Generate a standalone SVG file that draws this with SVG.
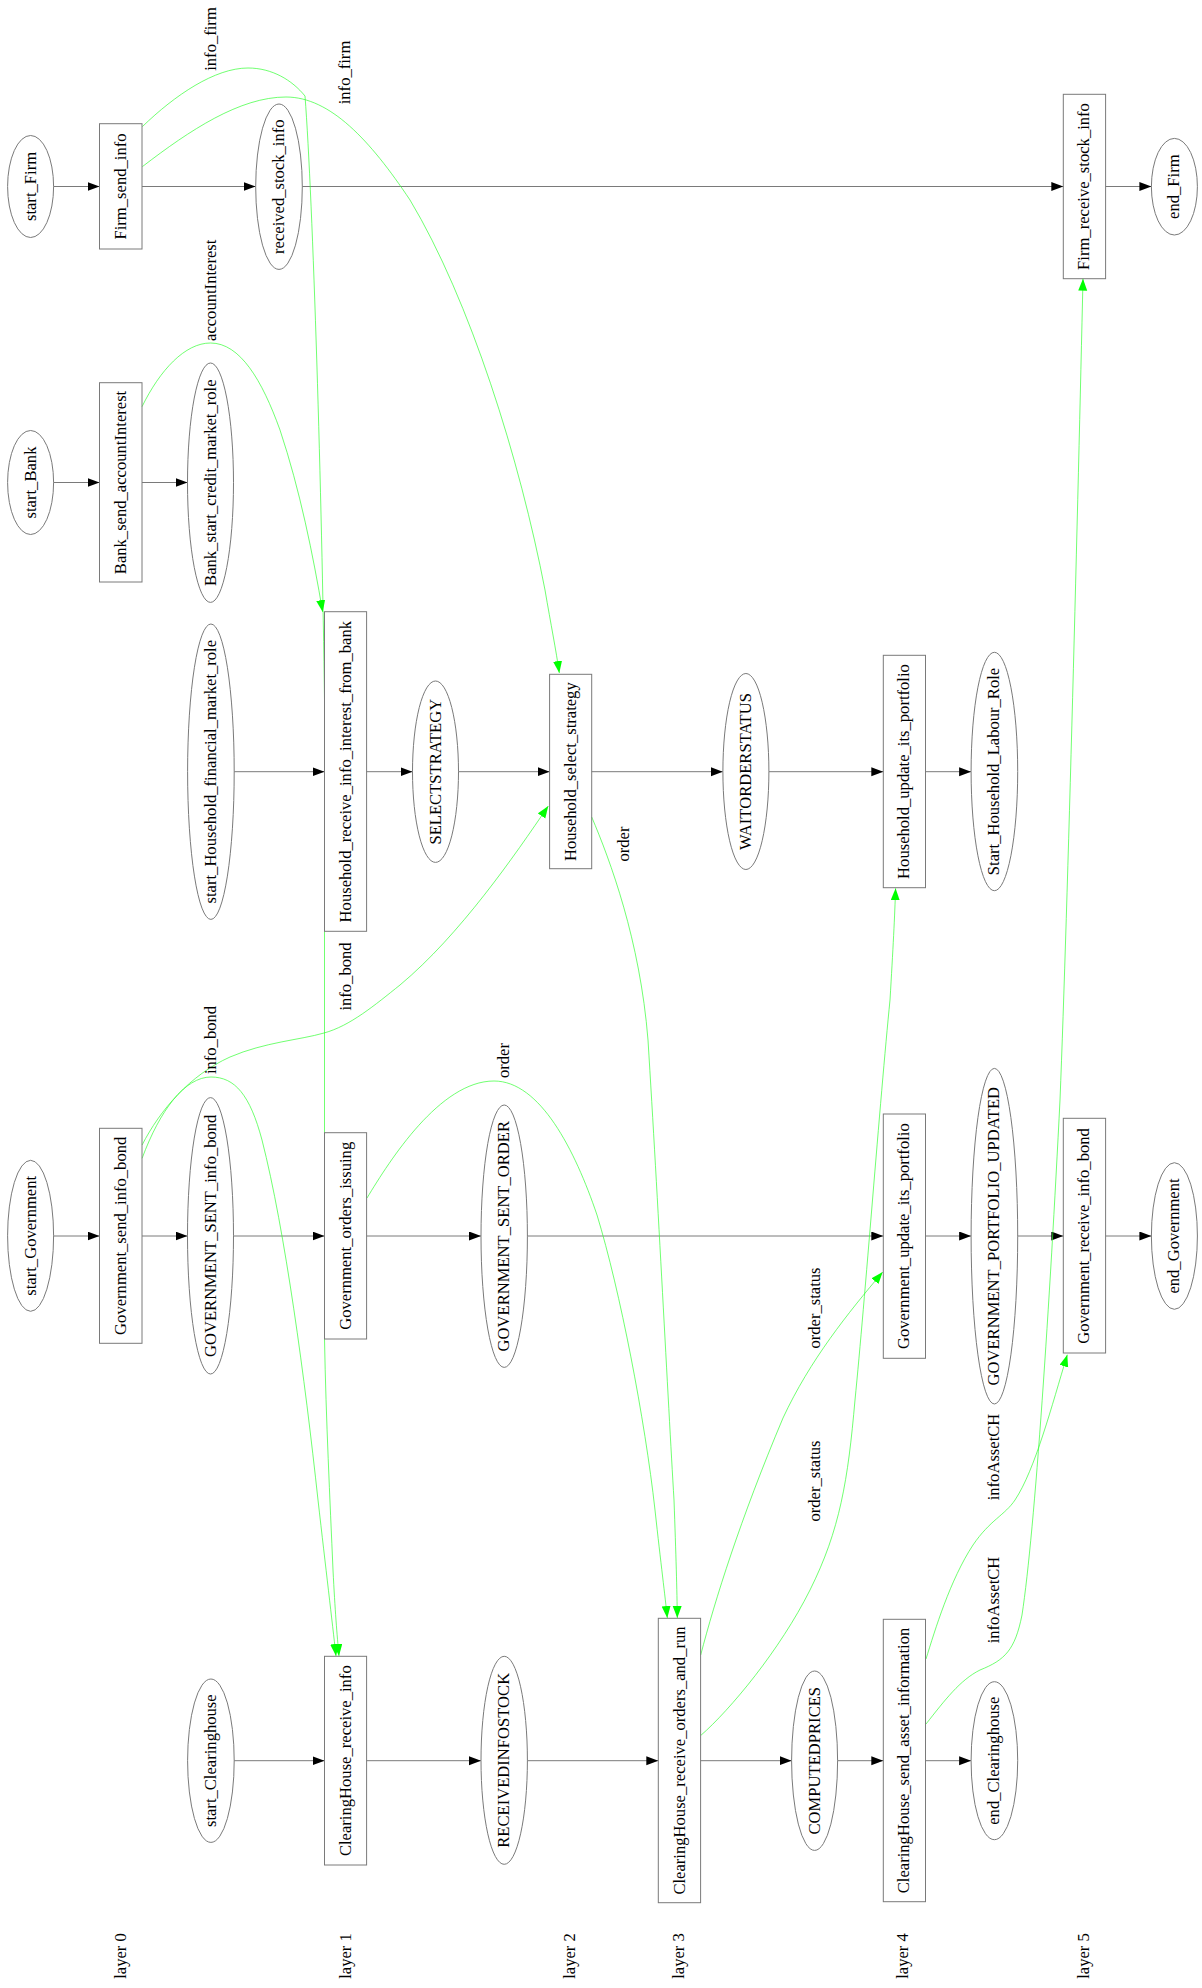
<svg xmlns="http://www.w3.org/2000/svg" width="1202" height="1988" viewBox="0 0 1202 1988">
<style>
.n rect,.n ellipse{fill:none;stroke:#7a7a7a;stroke-width:1}
text{font-family:"Liberation Serif","Times New Roman",serif;font-size:16.6px;text-anchor:middle;fill:#000}
.e line{stroke:#7a7a7a;stroke-width:1;marker-end:url(#ab)}
.m path{fill:none;stroke:#33ff33;stroke-width:0.7;marker-end:url(#ag)}
</style>
<defs>
<marker id="ab" markerUnits="userSpaceOnUse" markerWidth="13" markerHeight="10" refX="12" refY="4.5" orient="auto" viewBox="0 0 13 10"><path d="M0,0 L12,4.5 L0,9 z" fill="#000"/></marker>
<marker id="ag" markerUnits="userSpaceOnUse" markerWidth="13" markerHeight="10" refX="12" refY="4.5" orient="auto" viewBox="0 0 13 10"><path d="M0,0 L12,4.5 L0,9 z" fill="#00ff00"/></marker>
</defs>
<rect width="1202" height="1988" fill="#fff"/>

<g id="connectors">
<g class="e">
<line x1="53.6" y1="186.5" x2="99.5" y2="186.5"/>
<line x1="142" y1="186.5" x2="255.6" y2="186.5"/>
<line x1="302.3" y1="186.5" x2="1063.3" y2="186.5"/>
<line x1="1105.6" y1="186.5" x2="1151.4" y2="186.5"/>
<line x1="53.6" y1="482.5" x2="99.5" y2="482.5"/>
<line x1="142" y1="482.5" x2="187.5" y2="482.5"/>
<line x1="234.2" y1="771.7" x2="324.5" y2="771.7"/>
<line x1="366.6" y1="771.7" x2="412.5" y2="771.7"/>
<line x1="458.5" y1="771.7" x2="549.6" y2="771.7"/>
<line x1="591.7" y1="771.7" x2="722.8" y2="771.7"/>
<line x1="768.9" y1="771.7" x2="883.3" y2="771.7"/>
<line x1="925.5" y1="771.7" x2="971.1" y2="771.7"/>
<line x1="53.6" y1="1236" x2="99.5" y2="1236"/>
<line x1="142" y1="1236" x2="187.5" y2="1236"/>
<line x1="233.5" y1="1236" x2="324.5" y2="1236"/>
<line x1="366.6" y1="1236" x2="481" y2="1236"/>
<line x1="527.4" y1="1236" x2="883.3" y2="1236"/>
<line x1="925.5" y1="1236" x2="971.1" y2="1236"/>
<line x1="1017.7" y1="1236" x2="1063.3" y2="1236"/>
<line x1="1105.6" y1="1236" x2="1151.4" y2="1236"/>
<line x1="234.2" y1="1760.7" x2="324.5" y2="1760.7"/>
<line x1="366.6" y1="1760.7" x2="481" y2="1760.7"/>
<line x1="527.4" y1="1760.7" x2="658.3" y2="1760.7"/>
<line x1="700.6" y1="1760.7" x2="791.6" y2="1760.7"/>
<line x1="837.6" y1="1760.7" x2="883.3" y2="1760.7"/>
<line x1="925.5" y1="1760.7" x2="971.1" y2="1760.7"/>
</g>
<g class="m">
<path d="M142.3,126.7 C175,95 215,68 248,68 C272,68 292,80 305,96 C313,200 322,500 324.5,700 L324.5,1339 C326,1420 330,1500 333,1570 C335,1610 337,1635 339,1656"/>
<path d="M142.3,166.7 C190,130 240,97 286,97 C330,97 370,140 410,200 C470,300 520,460 545,590 C551,625 556,650 559.3,673"/>
<path d="M142,406.7 C160,370 185,343 210.5,343 C240,343 262,380 280,430 C300,490 313,555 322.7,612"/>
<path d="M142.1,1145 C160,1110 190,1075 230,1057 C265,1042 300,1040 324,1033 C350,1026 375,1005 400,985 C460,935 515,855 548.3,806"/>
<path d="M142.1,1158.3 C160,1110 185,1077 211,1077 C235,1077 250,1095 262,1140 C285,1230 305,1380 318,1500 C326,1570 332,1620 336,1656"/>
<path d="M367,1198 C390,1160 440,1081 494,1081 C540,1081 575,1150 597,1215 C620,1290 645,1420 655,1510 C661,1565 665,1595 667.3,1618"/>
<path d="M591.7,817 C610,860 640,940 648,1040 C658,1200 668,1400 674,1500 C676,1555 677,1590 677.3,1618"/>
<path d="M700.7,1655 C715,1600 740,1520 783,1418 C810,1360 848,1313 882.7,1272"/>
<path d="M700.7,1735.5 C730,1710 780,1650 810,1590 C840,1530 848,1480 855,1400 C865,1300 880,1100 890,1000 C893,950 894.8,915 895.6,888.3"/>
<path d="M926,1659 C935,1630 950,1580 973,1545 C990,1520 1005,1515 1015,1500 C1035,1470 1052,1405 1067.3,1354.7"/>
<path d="M926,1724 C945,1700 960,1680 980,1670 C1005,1660 1015,1650 1022,1615 C1035,1530 1050,1300 1060,1100 C1068,900 1078,500 1083,278.7"/>
</g>
<g id="edge-labels">
<text transform="translate(210.5,39) rotate(-90)" y="5">info_firm</text>
<text transform="translate(345,72.5) rotate(-90)" y="5">info_firm</text>
<text transform="translate(210.5,290.3) rotate(-90)" y="5">accountInterest</text>
<text transform="translate(346,976.5) rotate(-90)" y="5">info_bond</text>
<text transform="translate(211,1040) rotate(-90)" y="5">info_bond</text>
<text transform="translate(504,1060.5) rotate(-90)" y="5">order</text>
<text transform="translate(624,844) rotate(-90)" y="5">order</text>
<text transform="translate(815,1308) rotate(-90)" y="5">order_status</text>
<text transform="translate(815,1481) rotate(-90)" y="5">order_status</text>
<text transform="translate(994,1457) rotate(-90)" y="5">infoAssetCH</text>
<text transform="translate(994,1600) rotate(-90)" y="5">infoAssetCH</text>
</g>
</g>

<g id="start_Firm" class="n"><ellipse cx="30.6" cy="186.5" rx="23" ry="51"/><text transform="translate(30.6,186.5) rotate(-90)" y="5">start_Firm</text></g>
<g id="Firm_send_info" class="n"><rect x="99.5" y="123.7" width="42.5" height="125.3"/><text transform="translate(120.7,186.5) rotate(-90)" y="5">Firm_send_info</text></g>
<g id="received_stock_info" class="n"><ellipse cx="279" cy="186.7" rx="23.3" ry="82.7"/><text transform="translate(279,186.7) rotate(-90)" y="5">received_stock_info</text></g>
<g id="Firm_receive_stock_info" class="n"><rect x="1063.3" y="94.3" width="42.3" height="184.4"/><text transform="translate(1084.4,186.5) rotate(-90)" y="5">Firm_receive_stock_info</text></g>
<g id="end_Firm" class="n"><ellipse cx="1174.4" cy="186.7" rx="23" ry="48.3"/><text transform="translate(1174.4,186.7) rotate(-90)" y="5">end_Firm</text></g>

<g id="start_Bank" class="n"><ellipse cx="30.6" cy="482.5" rx="23" ry="52"/><text transform="translate(30.6,482.5) rotate(-90)" y="5">start_Bank</text></g>
<g id="Bank_send_accountInterest" class="n"><rect x="99.5" y="382.7" width="42.5" height="199.3"/><text transform="translate(120.7,482.5) rotate(-90)" y="5">Bank_send_accountInterest</text></g>
<g id="Bank_start_credit_market_role" class="n"><ellipse cx="210.5" cy="482.7" rx="23" ry="119.7"/><text transform="translate(210.5,482.7) rotate(-90)" y="5">Bank_start_credit_market_role</text></g>

<g id="start_Household_financial_market_role" class="n"><ellipse cx="210.9" cy="771.7" rx="23.3" ry="147.7"/><text transform="translate(210.9,771.7) rotate(-90)" y="5">start_Household_financial_market_role</text></g>
<g id="Household_receive_info_interest_from_bank" class="n"><rect x="324.5" y="611.7" width="42.1" height="319.6"/><text transform="translate(345.6,771.7) rotate(-90)" y="5">Household_receive_info_interest_from_bank</text></g>
<g id="SELECTSTRATEGY" class="n"><ellipse cx="435.5" cy="771.7" rx="23" ry="90.7"/><text transform="translate(435.5,771.7) rotate(-90)" y="5">SELECTSTRATEGY</text></g>
<g id="Household_select_strategy" class="n"><rect x="549.6" y="674.3" width="42.1" height="194.4"/><text transform="translate(570.6,771.7) rotate(-90)" y="5">Household_select_strategy</text></g>
<g id="WAITORDERSTATUS" class="n"><ellipse cx="745.9" cy="771.5" rx="23" ry="98"/><text transform="translate(745.9,771.5) rotate(-90)" y="5">WAITORDERSTATUS</text></g>
<g id="Household_update_its_portfolio" class="n"><rect x="883.3" y="655.3" width="42.2" height="232.4"/><text transform="translate(904.4,771.5) rotate(-90)" y="5">Household_update_its_portfolio</text></g>
<g id="Start_Household_Labour_Role" class="n"><ellipse cx="994.4" cy="771.5" rx="23.3" ry="119.2"/><text transform="translate(994.4,771.5) rotate(-90)" y="5">Start_Household_Labour_Role</text></g>

<g id="start_Government" class="n"><ellipse cx="30.6" cy="1235.8" rx="23" ry="75.5"/><text transform="translate(30.6,1235.8) rotate(-90)" y="5">start_Government</text></g>
<g id="Government_send_info_bond" class="n"><rect x="99.5" y="1128.3" width="42.5" height="215"/><text transform="translate(120.7,1235.8) rotate(-90)" y="5">Government_send_info_bond</text></g>
<g id="GOVERNMENT_SENT_info_bond" class="n"><ellipse cx="210.5" cy="1235.8" rx="23" ry="138.2"/><text transform="translate(210.5,1235.8) rotate(-90)" y="5">GOVERNMENT_SENT_info_bond</text></g>
<g id="Government_orders_issuing" class="n"><rect x="324.5" y="1132.7" width="42.1" height="206.3"/><text transform="translate(345.6,1235.8) rotate(-90)" y="5">Government_orders_issuing</text></g>
<g id="GOVERNMENT_SENT_ORDER" class="n"><ellipse cx="504.2" cy="1236.2" rx="23.2" ry="131.2"/><text transform="translate(504.2,1236.2) rotate(-90)" y="5">GOVERNMENT_SENT_ORDER</text></g>
<g id="Government_update_its_portfolio" class="n"><rect x="883.3" y="1114" width="42.2" height="244.3"/><text transform="translate(904.4,1236.2) rotate(-90)" y="5">Government_update_its_portfolio</text></g>
<g id="GOVERNMENT_PORTFOLIO_UPDATED" class="n"><ellipse cx="994.4" cy="1236.2" rx="23.3" ry="167.8"/><text transform="translate(994.4,1236.2) rotate(-90)" y="5">GOVERNMENT_PORTFOLIO_UPDATED</text></g>
<g id="Government_receive_info_bond" class="n"><rect x="1063.3" y="1118.3" width="42.3" height="234.7"/><text transform="translate(1084.4,1236) rotate(-90)" y="5">Government_receive_info_bond</text></g>
<g id="end_Government" class="n"><ellipse cx="1174.4" cy="1236" rx="23" ry="73.3"/><text transform="translate(1174.4,1236) rotate(-90)" y="5">end_Government</text></g>

<g id="start_Clearinghouse" class="n"><ellipse cx="210.9" cy="1760.7" rx="23.3" ry="81.7"/><text transform="translate(210.9,1760.7) rotate(-90)" y="5">start_Clearinghouse</text></g>
<g id="ClearingHouse_receive_info" class="n"><rect x="324.5" y="1656.3" width="42.1" height="208.7"/><text transform="translate(345.6,1760.7) rotate(-90)" y="5">ClearingHouse_receive_info</text></g>
<g id="RECEIVEDINFOSTOCK" class="n"><ellipse cx="504.2" cy="1760.3" rx="23.2" ry="104"/><text transform="translate(504.2,1760.3) rotate(-90)" y="5">RECEIVEDINFOSTOCK</text></g>
<g id="ClearingHouse_receive_orders_and_run" class="n"><rect x="658.3" y="1618.3" width="42.3" height="284.4"/><text transform="translate(679.5,1760.5) rotate(-90)" y="5">ClearingHouse_receive_orders_and_run</text></g>
<g id="COMPUTEDPRICES" class="n"><ellipse cx="814.6" cy="1760.7" rx="23" ry="89.7"/><text transform="translate(814.6,1760.7) rotate(-90)" y="5">COMPUTEDPRICES</text></g>
<g id="ClearingHouse_send_asset_information" class="n"><rect x="883.3" y="1619.3" width="42.2" height="282.4"/><text transform="translate(904.4,1760.5) rotate(-90)" y="5">ClearingHouse_send_asset_information</text></g>
<g id="end_Clearinghouse" class="n"><ellipse cx="994.4" cy="1760.7" rx="23.3" ry="79"/><text transform="translate(994.4,1760.7) rotate(-90)" y="5">end_Clearinghouse</text></g>

<g id="layer-labels">
<text transform="translate(120.5,1956) rotate(-90)" y="5">layer 0</text>
<text transform="translate(346.4,1956) rotate(-90)" y="5">layer 1</text>
<text transform="translate(570.2,1956) rotate(-90)" y="5">layer 2</text>
<text transform="translate(678.7,1956) rotate(-90)" y="5">layer 3</text>
<text transform="translate(903.3,1956) rotate(-90)" y="5">layer 4</text>
<text transform="translate(1084.4,1956) rotate(-90)" y="5">layer 5</text>
</g>
</svg>
